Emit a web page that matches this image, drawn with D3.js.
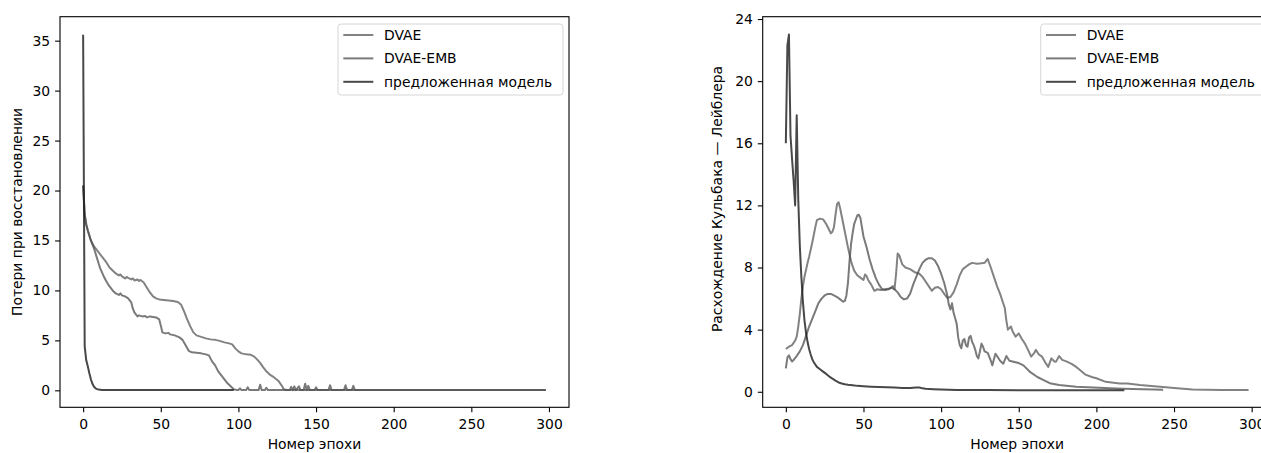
<!DOCTYPE html>
<html>
<head>
<meta charset="utf-8">
<script src="https://cdn.jsdelivr.net/npm/d3@7"></script>
<style>
  body { margin: 0; background: #fff; }
  svg text { font-family: "DejaVu Sans", sans-serif; fill: #000; }
</style>
</head>
<body>
<script>

// legend names and tick labels
var seriesNames = ["DVAE", "DVAE-EMB", "предложенная модель"]
var epochTicks = [0, 50, 100, 150, 200, 250, 300]
var reconTicks = [0, 5, 10, 15, 20, 25, 30, 35]
var klTicks = [0, 4, 8, 12, 16, 20, 24]

// reconstruction loss per epoch, [epoch, value]
var reconDvae = [[0,20.5],[1,17.6],[2,16.6],[3,16.0],[5,15.0],[7,14.4],[9,14.0],[11,13.6],[13,13.2],[15,12.8],
  [17,12.3],[19,12.0],[21,11.7],[23,11.5],[24,11.6],[25,11.4],[27,11.2],[28,11.35],[29,11.25],[31,11.1],
  [32,11.2],[33,11.0],[35,11.1],[36,10.95],[37,11.05],[39,10.8],[41,10.3],[43,9.8],[45,9.4],[47,9.2],
  [49,9.1],[52,9.05],[55,9.0],[58,8.95],[61,8.85],[63,8.6],[65,7.9],[67,7.1],[69,6.4],[71,5.8],[73,5.5],
  [76,5.35],[79,5.2],[82,5.1],[85,5.05],[88,4.95],[91,4.8],[94,4.7],[96,4.6],[98,4.2],[100,3.9],[102,3.7],
  [105,3.6],[108,3.55],[110,3.4],[112,3.1],[114,2.75],[116,2.3],[118,1.9],[120,1.6],[122,1.4],[124,1.15],
  [126,0.9],[128,0.45],[129,0.15],[131,0.02],[298,0.02]]
var reconEmb = [[0,20.5],[1,17.6],[2,16.6],[3,16.0],[5,15.0],[7,14.2],[9,13.2],[11,12.2],[13,11.5],[15,10.9],
  [17,10.4],[19,10.0],[21,9.7],[23,9.55],[24,9.7],[25,9.5],[27,9.4],[29,9.2],[31,8.8],[32,8.2],[33,7.8],
  [35,7.4],[36,7.5],[38,7.4],[40,7.45],[41,7.3],[43,7.4],[45,7.35],[47,7.3],[49,7.1],[50,6.5],[51,5.8],
  [53,5.7],[55,5.75],[56,5.6],[59,5.5],[62,5.3],[64,5.05],[66,4.5],[68,3.95],[70,3.8],[73,3.75],[76,3.7],
  [79,3.6],[81,3.5],[83,2.9],[85,2.5],[87,1.9],[89,1.5],[91,1.1],[93,0.7],[95,0.4],[97,0.1],[99,0.02],
  [100,0.02],[101,0.2],[102,0.02],[105,0.02],[106,0.3],[107,0.02],[113,0.02],[114,0.55],[115,0.02],
  [117,0.02],[118,0.25],[119,0.02],[133,0.02],[134,0.35],[135,0.02],[136,0.4],[137,0.02],[139,0.4],
  [140,0.02],[142,0.02],[143,0.65],[144,0.02],[145,0.45],[146,0.02],[149,0.02],[150,0.3],[151,0.02],
  [158,0.02],[159,0.5],[160,0.02],[168,0.02],[169,0.5],[170,0.02],[173,0.02],[174,0.45],[175,0.02],[298,0.02]]
var reconOurs = [[0,35.6],[1,4.4],[2,3.0],[3,2.4],[4,1.7],[5,1.1],[6,0.65],[7,0.35],[8,0.2],[9,0.12],
  [10,0.07],[12,0.04],[15,0.03],[30,0.03],[60,0.02],[97,0.02]]

// kullback-leibler divergence per epoch, [epoch, value]
var klDvae = [[0,2.75],[2,2.9],[4,3.0],[6,3.3],[7,3.55],[8,4.2],[9,5.0],[10,6.0],[11,6.8],[12,7.4],[14,8.3],
  [15,8.7],[17,9.6],[19,10.6],[20,11.05],[22,11.15],[24,11.1],[26,10.8],[28,10.4],[29,10.2],[30,10.3],
  [31,10.6],[32,11.4],[33,12.1],[34,12.2],[35,11.8],[36,11.3],[38,10.3],[40,9.3],[42,8.4],[44,7.8],
  [46,7.5],[48,7.35],[50,7.2],[51,7.55],[52,7.45],[53,7.2],[55,6.9],[57,6.5],[59,6.6],[61,6.55],[64,6.6],
  [67,6.65],[69,6.8],[70,6.6],[71,7.6],[72,8.9],[73,8.8],[75,8.2],[77,8.0],[80,7.9],[83,7.7],[86,7.6],
  [88,7.4],[90,7.1],[92,6.8],[94,6.5],[96,6.7],[98,6.75],[100,6.6],[102,6.3],[104,6.05],[106,6.1],
  [108,6.4],[110,6.9],[112,7.5],[114,7.9],[116,8.05],[118,8.2],[120,8.3],[123,8.25],[126,8.27],[128,8.3],
  [130,8.55],[132,8.0],[134,7.4],[136,6.8],[138,6.3],[140,5.7],[141,5.4],[142,4.6],[143,4.0],[144,4.1],
  [145,4.2],[146,3.9],[148,3.55],[150,3.76],[152,3.4],[154,3.1],[156,2.7],[158,2.26],[160,2.5],[161,2.7],
  [163,2.4],[165,2.26],[167,1.9],[169,1.6],[171,2.15],[173,1.95],[174,1.94],[176,2.3],[178,2.05],
  [181,1.94],[184,1.8],[187,1.6],[190,1.35],[193,1.1],[197,0.95],[200,0.87],[206,0.64],[215,0.54],
  [220,0.53],[228,0.43],[241,0.32],[252,0.22],[262,0.15],[280,0.12],[298,0.11]]
var klEmb = [[0,1.5],[1,2.2],[2,2.35],[3,2.1],[4,1.95],[5,2.05],[7,2.3],[9,2.6],[11,3.0],[13,3.6],[15,4.2],
  [17,4.7],[19,5.2],[21,5.7],[23,6.0],[25,6.2],[27,6.3],[29,6.3],[31,6.2],[33,6.1],[35,5.95],[37,5.8],
  [38,5.85],[39,6.2],[40,7.0],[41,8.4],[42,9.5],[43,10.2],[44,10.8],[46,11.35],[47,11.4],[48,11.2],
  [49,10.6],[50,10.0],[52,9.3],[54,8.5],[56,7.85],[58,7.3],[60,6.9],[62,6.6],[64,6.55],[66,6.6],[68,6.7],
  [70,6.6],[72,6.4],[74,6.1],[76,5.95],[78,6.0],[80,6.3],[82,6.9],[84,7.4],[86,7.9],[88,8.3],[90,8.5],
  [92,8.6],[94,8.6],[96,8.45],[98,8.1],[100,7.6],[102,7.0],[104,6.2],[105,5.6],[106,5.3],[107,5.7],
  [108,5.1],[110,4.4],[111,3.5],[112,3.0],[113,2.8],[114,3.3],[115,3.4],[116,3.0],[117,2.9],[118,3.5],
  [119,3.6],[120,3.2],[121,3.0],[122,2.7],[123,2.3],[124,2.15],[125,2.6],[126,3.1],[127,2.9],[128,2.6],
  [130,2.5],[132,2.0],[133,1.7],[134,2.1],[135,2.45],[136,2.3],[138,2.0],[140,1.8],[142,2.3],[144,2.0],
  [146,1.95],[150,1.85],[153,1.7],[157,1.3],[162,0.95],[166,0.75],[170,0.55],[176,0.43],[187,0.32],
  [198,0.28],[209,0.22],[217,0.19],[230,0.16],[243,0.13]]
var klOurs = [[0,16.0],[1,22.3],[2,23.0],[3,16.5],[4,15.0],[5,13.6],[6,12.0],[7,17.8],[8,12.4],[9,9.4],
  [10,7.4],[11,5.8],[12,4.6],[13,3.8],[14,3.2],[15,2.75],[16,2.4],[17,2.1],[18,1.9],[20,1.6],[22,1.45],
  [24,1.3],[26,1.15],[28,0.98],[30,0.85],[32,0.72],[34,0.6],[36,0.53],[38,0.48],[40,0.45],[43,0.42],
  [46,0.38],[50,0.36],[55,0.33],[60,0.31],[65,0.29],[70,0.27],[75,0.25],[80,0.24],[84,0.27],[86,0.28],
  [88,0.22],[90,0.19],[95,0.16],[100,0.14],[110,0.12],[130,0.11],[160,0.1],[190,0.1],[218,0.1]]

// canvas and shared sizes
var w = 1261
var h = 453
var plotTop = 16.7
var plotBottom = 407.3
var tick = 4.9
var colors = ["#4d4d4d", "#4d4d4d", "#1a1a1a"]
var alphas = [0.7, 0.75, 0.8]

var svg = d3.select("body")
            .append("svg")
            .attr("width", w)
            .attr("height", h)

drawPanel({left: 60, right: 569, yDomain: [-1.7, 37.4], yTicks: reconTicks,
           label: "Потери при восстановлении", labelX: 21.5, labelY: 212,
           series: [reconDvae, reconEmb, reconOurs]})

drawPanel({left: 762.7, right: 1271.7, yDomain: [-1.0, 24.15], yTicks: klTicks,
           label: "Расхождение Кульбака — Лейблера", labelX: 722, labelY: 199,
           series: [klDvae, klEmb, klOurs]})

function drawPanel(p) {
  /* one axes box with its three curves and legend */
  var x = d3.scaleLinear()
            .domain([-14.9, 312.9])
            .range([p.left, p.right])
  var y = d3.scaleLinear()
            .domain(p.yDomain)
            .range([plotBottom, plotTop])

  var line = d3.line()
               .x(function(d) { return x(d[0]) })
               .y(function(d) { return y(d[1]) })

  // curves, in the order they were plotted
  p.series.forEach(function(s, i) {
    svg.append("path")
       .datum(s)
       .attr("d", line)
       .attr("fill", "none")
       .attr("stroke", colors[i])
       .attr("stroke-opacity", alphas[i])
       .attr("stroke-width", 2)
       .attr("stroke-linejoin", "round")
  })

  // x axis
  var xa = svg.append("g")
              .attr("transform", "translate(0," + plotBottom + ")")
              .call(d3.axisBottom(x).tickValues(epochTicks).tickSize(tick)
                      .tickSizeOuter(0).tickPadding(7))
  // y axis
  var ya = svg.append("g")
              .attr("transform", "translate(" + p.left + ",0)")
              .call(d3.axisLeft(y).tickValues(p.yTicks).tickSize(tick)
                      .tickSizeOuter(0).tickPadding(4.9))
  ;[xa, ya].forEach(function(a) {
    a.attr("font-family", null).attr("font-size", null)
    a.select(".domain").remove()
    a.selectAll("line").attr("stroke", "#000").attr("stroke-width", 1.1)
    a.selectAll("text").style("font-size", "13.9px")
  })

  // frame round the axes
  svg.append("rect")
     .attr("x", p.left)
     .attr("y", plotTop)
     .attr("width", p.right - p.left)
     .attr("height", plotBottom - plotTop)
     .attr("fill", "none")
     .attr("stroke", "#000")
     .attr("stroke-width", 1.1)

  // axis titles
  svg.append("text")
     .attr("x", (p.left + p.right) / 2)
     .attr("y", 448.5)
     .style("text-anchor", "middle")
     .style("font-size", "13.9px")
     .text("Номер эпохи")

  svg.append("text")
     .attr("transform", "translate(" + p.labelX + "," + p.labelY + ") rotate(-90)")
     .style("text-anchor", "middle")
     .style("font-size", "13.9px")
     .text(p.label)

  // legend in the upper right corner
  var lx = p.right - 231
  var lg = svg.append("g")
  lg.append("rect")
    .attr("x", lx)
    .attr("y", 24)
    .attr("width", 225)
    .attr("height", 71)
    .attr("rx", 3)
    .attr("fill", "#fff")
    .attr("fill-opacity", 0.8)
    .attr("stroke", "#d6d6d6")
    .attr("stroke-width", 1)

  seriesNames.forEach(function(name, i) {
    var ry = 35 + i * 23.4
    lg.append("line")
      .attr("x1", lx + 5.3)
      .attr("x2", lx + 35.3)
      .attr("y1", ry)
      .attr("y2", ry)
      .attr("stroke", colors[i])
      .attr("stroke-opacity", alphas[i])
      .attr("stroke-width", 2)
    lg.append("text")
      .attr("x", lx + 46)
      .attr("y", ry)
      .attr("dy", "0.35em")
      .style("font-size", "13.9px")
      .text(name)
  })
}

</script>
</body>
</html>
